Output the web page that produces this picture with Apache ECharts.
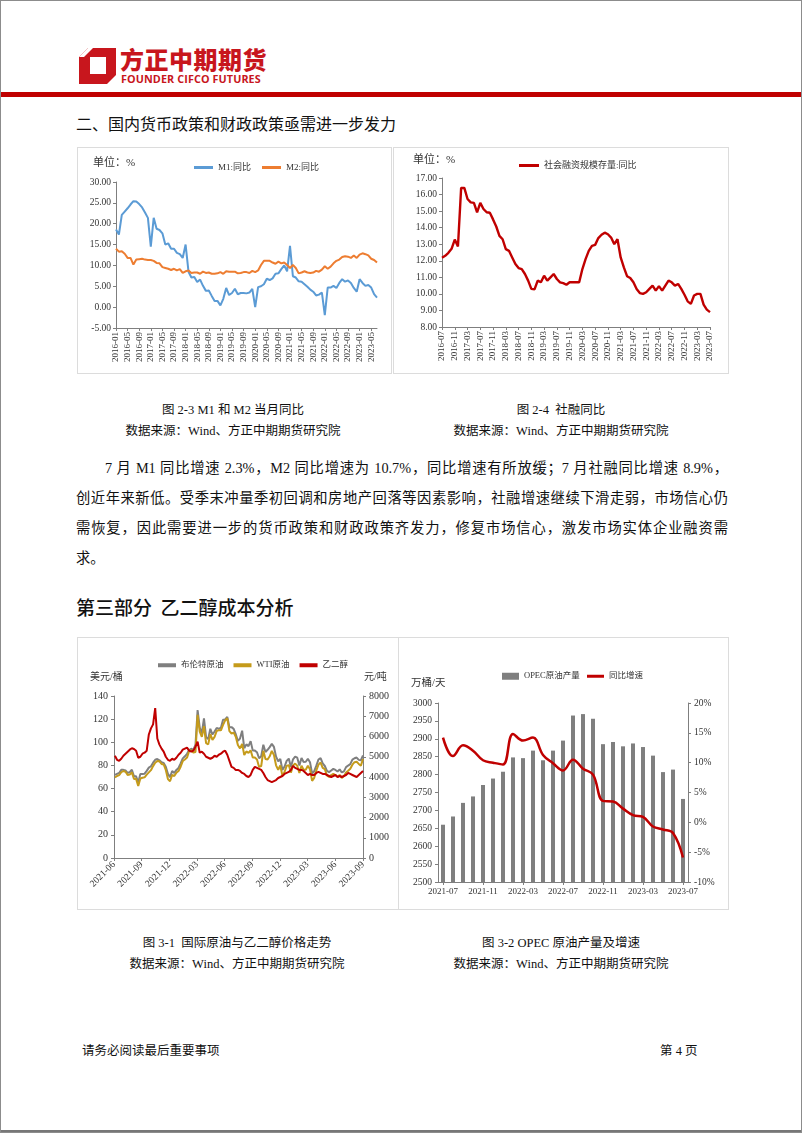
<!DOCTYPE html>
<html><head><meta charset="utf-8">
<script src="https://cdn.jsdelivr.net/npm/echarts@6/dist/echarts.min.js"></script>
<style>
html,body{margin:0;padding:0;background:#fff;}
#page{position:relative;width:800px;height:1131px;border:1px solid #8c8c8c;overflow:hidden;font-family:"Liberation Serif","Noto Sans CJK SC",serif;color:#111;background:#fff;}
.abs{position:absolute;white-space:nowrap;}
.panel{position:absolute;border:1px solid #dcdcdc;box-sizing:border-box;}
.chart{position:absolute;}
.cap{position:absolute;width:330px;text-align:center;font-size:12.5px;line-height:16px;white-space:nowrap;}
.para{position:absolute;font-size:14.3px;line-height:22px;text-align:justify;text-align-last:justify;white-space:nowrap;}
</style></head>
<body>
<div id="page">
  <svg class="abs" style="left:78px;top:47px" width="38" height="36" viewBox="0 0 38 36">
    <path d="M9,0 H37 V27 L28,36 H0 V9 Z" fill="#c8161d"/>
    <path d="M11,9 H27 V26 H11 Z" fill="#fff"/>
    <path d="M0,9 L9,0 H14 L5,9 Z" fill="#fff"/>
  </svg>
  <div class="abs" style="left:119px;top:44px;font-family:'Noto Sans CJK SC';font-weight:900;font-size:24px;letter-spacing:0.5px;color:#c8161d;line-height:28px;">方正中期期货</div>
  <div class="abs" style="left:120px;top:72px;font-family:'Open Sans','Noto Sans';font-weight:700;font-size:10.8px;color:#c8161d;line-height:12px;letter-spacing:0.1px;">FOUNDER CIFCO FUTURES</div>
  <div class="abs" style="left:0;top:91px;width:802px;height:5px;background:#c00000;"></div>

  <div class="abs" style="left:75px;top:113px;font-size:16px;line-height:18px;font-family:'Noto Sans CJK SC';">二、国内货币政策和财政政策亟需进一步发力</div>

  <div class="panel" style="left:76px;top:146px;width:315px;height:227px;"></div>
  <div class="panel" style="left:392px;top:146px;width:336px;height:227px;"></div>
  <div id="c1" class="chart" style="left:76px;top:146px;width:314px;height:226px;"></div>
  <div id="c2" class="chart" style="left:392px;top:146px;width:335px;height:226px;"></div>

  <div class="cap" style="left:67px;top:401px;">图 2-3 M1 和 M2 当月同比</div>
  <div class="cap" style="left:67px;top:422px;">数据来源：Wind、方正中期期货研究院</div>
  <div class="cap" style="left:395px;top:401px;">图 2-4&nbsp; 社融同比</div>
  <div class="cap" style="left:395px;top:422px;">数据来源：Wind、方正中期期货研究院</div>

  <div class="para" style="left:104px;top:456px;width:623px;">7 月 M1 同比增速 2.3%，M2 同比增速为 10.7%，同比增速有所放缓；7 月社融同比增速 8.9%，</div>
  <div class="para" style="left:75px;top:486px;width:652px;">创近年来新低。受季末冲量季初回调和房地产回落等因素影响，社融增速继续下滑走弱，市场信心仍</div>
  <div class="para" style="left:75px;top:516px;width:652px;">需恢复，因此需要进一步的货币政策和财政政策齐发力，修复市场信心，激发市场实体企业融资需</div>
  <div class="para" style="left:75px;top:546px;text-align-last:left;">求。</div>

  <div class="abs" style="left:75px;top:595px;font-size:19px;line-height:22px;font-family:'Noto Sans CJK SC';font-weight:500;">第三部分&nbsp; 乙二醇成本分析</div>

  <div class="panel" style="left:76px;top:636px;width:322px;height:273px;"></div>
  <div class="panel" style="left:397px;top:636px;width:331px;height:273px;"></div>
  <div id="c3" class="chart" style="left:76px;top:636px;width:321px;height:272px;"></div>
  <div id="c4" class="chart" style="left:397px;top:636px;width:330px;height:272px;"></div>

  <div class="cap" style="left:71px;top:934px;">图 3-1&nbsp; 国际原油与乙二醇价格走势</div>
  <div class="cap" style="left:71px;top:955px;">数据来源：Wind、方正中期期货研究院</div>
  <div class="cap" style="left:395px;top:934px;">图 3-2 OPEC 原油产量及增速</div>
  <div class="cap" style="left:395px;top:955px;">数据来源：Wind、方正中期期货研究院</div>

  <div class="abs" style="left:81px;top:1042px;font-size:12.5px;line-height:16px;">请务必阅读最后重要事项</div>
  <div class="abs" style="left:659px;top:1042px;font-size:12.5px;line-height:16px;">第 4 页</div>
  <div class="abs" style="left:0;top:1129px;width:802px;height:2px;background:#777;"></div>
</div>
<script>
// ---------- Chart 2-3: M1 / M2 (monthly, 2016-01 .. 2023-07) ----------
const m1Start = [2016, 1];
const m1Values = [18.6,17.4,22.1,22.9,23.7,24.6,25.4,25.3,24.7,23.9,22.7,21.4,
  14.5,21.4,18.8,18.5,17.7,15.0,15.3,14.0,14.0,13.0,12.7,11.8,
  15.0,8.5,7.1,7.2,6.0,6.6,5.1,3.9,4.0,2.7,1.5,1.5,
  0.4,2.0,4.6,2.9,3.4,4.4,3.1,3.4,3.4,3.3,3.5,4.4,
  0.0,4.8,5.0,5.5,6.8,6.5,6.9,8.0,8.1,9.1,10.0,8.6,
  14.7,7.4,7.1,6.2,6.1,5.5,4.9,4.2,3.7,2.8,3.0,3.5,
  -1.9,4.7,4.7,5.1,4.6,5.8,6.7,6.1,6.4,5.8,4.6,3.7,
  6.7,5.8,5.1,5.3,4.7,3.1,2.3];
const m2Values = [14.0,13.3,13.4,12.8,11.8,11.8,10.2,11.4,11.5,11.6,11.4,11.3,
  11.3,11.1,10.6,10.5,9.6,9.4,9.2,8.9,9.2,8.8,9.1,8.2,
  8.6,8.8,8.2,8.3,8.3,8.0,8.5,8.2,8.3,8.0,8.0,8.1,
  8.4,8.0,8.6,8.5,8.5,8.5,8.1,8.2,8.4,8.4,8.2,8.7,
  8.4,8.8,10.1,11.1,11.1,11.1,10.7,10.4,10.9,10.5,10.7,10.1,
  9.4,10.1,9.4,8.1,8.3,8.6,8.3,8.2,8.3,8.7,8.5,9.0,
  9.8,9.2,9.7,10.5,11.1,11.4,12.0,12.2,12.1,11.8,12.4,11.8,
  12.6,12.9,12.7,12.4,11.6,11.3,10.7];

// ---------- Chart 2-4: 社融存量同比 (monthly, 2016-07 .. 2023-07) ----------
const tsfStart = [2016, 7];
const tsfValues = [12.18,12.3,12.48,12.72,13.28,12.86,
  16.4,16.4,15.73,15.53,15.5,14.93,15.5,15.13,14.93,14.9,14.5,14.07,
  13.5,13.3,12.7,12.6,12.2,11.8,11.56,11.5,11.2,10.8,10.3,10.27,
  10.8,10.7,11.1,10.8,11.0,11.2,10.9,10.7,10.65,10.55,10.7,10.7,
  10.7,10.7,11.5,12.1,12.6,12.9,12.96,13.37,13.57,13.7,13.6,13.4,
  13.0,13.3,12.2,11.6,11.07,10.96,10.7,10.3,10.05,10.0,10.1,10.3,
  10.5,10.2,10.47,10.2,10.5,10.8,10.7,10.5,10.6,10.3,9.95,9.55,
  9.4,9.9,10.0,10.0,9.35,9.05,8.9];

// ---------- Chart 3-1: weekly prices, first week 2021-06-04 ----------
const weekFirst = '2021-06-04';
const axisStart = '2021-06-01', axisEnd = '2023-09-01';
const quarterLabels = ['2021-06','2021-09','2021-12','2022-03','2022-06','2022-09','2022-12','2023-03','2023-06','2023-09'];
const brent = [71.9,72.7,73.5,76.2,
  76.2,75.6,73.6,74.1,76.3,
  70.7,70.6,65.2,72.7,
  72.6,72.9,75.3,78.1,
  79.3,82.4,84.9,85.5,84.4,
  82.7,82.2,78.9,72.7,
  69.9,75.2,73.5,76.1,77.8,
  81.8,86.1,87.9,90.0,
  93.3,94.4,93.5,97.9,
  127.9,112.7,108.0,120.7,
  104.4,102.8,111.7,106.7,109.3,
  112.4,111.6,112.6,119.4,
  119.7,122.0,113.1,113.1,
  111.6,107.0,101.2,103.2,110.0,
  94.9,98.2,96.7,101.0,
  93.0,92.8,91.4,86.2,88.0,
  97.9,91.6,93.5,95.8,
  98.6,96.0,87.6,83.6,
  85.6,76.1,79.0,83.9,85.9,
  78.6,85.3,87.6,86.7,
  79.9,86.4,83.0,83.2,
  85.8,82.8,73.0,75.0,79.8,
  85.1,86.3,81.7,79.5,
  75.3,74.2,75.6,77.0,
  76.1,74.8,76.6,73.9,74.9,
  78.5,79.9,81.1,85.0,
  86.2,86.8,84.8,84.5,
  88.6];
const wti = [69.6,70.9,71.6,74.1,
  75.2,74.6,71.8,72.1,74.0,
  68.3,68.4,62.3,68.7,
  69.3,69.7,72.0,74.0,
  75.9,79.4,82.3,83.8,83.6,
  81.3,80.8,76.1,68.2,
  66.3,71.7,70.9,73.8,75.2,
  78.9,83.8,85.1,86.8,
  92.3,93.1,91.1,91.6,
  123.7,109.3,104.7,113.9,
  99.3,98.3,107.0,102.1,104.7,
  109.8,110.5,110.3,115.1,
  118.9,120.7,109.6,107.6,
  108.4,104.8,97.6,94.7,98.6,
  89.0,92.1,90.8,93.1,
  86.9,86.8,85.1,78.7,79.5,
  92.6,85.6,85.1,87.9,
  92.6,89.0,80.1,76.3,
  80.0,71.0,74.3,79.6,80.3,
  73.8,79.9,81.6,79.7,
  73.4,79.7,76.3,76.3,
  79.7,76.7,66.7,69.3,75.7,
  80.7,82.5,77.9,76.8,
  71.3,70.0,71.7,72.7,
  71.7,70.2,71.8,69.2,70.6,
  73.9,75.4,77.1,80.6,
  82.8,83.2,81.3,79.8,
  85.6];
const meg = [5050,4850,4800,4900, 5050,5150,5250,5350, 5420,5380,5300,4950,
  5000,5150,5200,5300, 6100,6400,6600,7400, 5900,5600,5400,5250,
  5000,4850,4800,4900, 4850,4950,5100,5200, 5350,5400,5450,5300,
  5250,5300,5500,5750, 5200,5250,5150,5000, 4950,4900,4950,5050,
  5000,5100,5150,5250, 5300,5100,4800,4500, 4450,4350,4350,4300,
  4200,4150,4050,4000, 4100,4350,4500,4450, 4400,4350,4200,4000,
  3850,3800,3750,3800, 3850,3950,4000,4050, 4150,4200,4250,4350,
  4550,4450,4400,4350, 4350,4300,4200,4100, 4150,4100,4100,4200,
  4250,4200,4150,4150, 4100,4050,4000,4050, 4100,4000,4050,4000,
  4050,4100,4200,4150, 4100,4050,4000,4100, 4200,4300];

// ---------- Chart 3-2: OPEC output (monthly, 2021-07 .. 2023-07) ----------
const opecStart = [2021, 7];
const opecOutput = [2660,2683,2721,2739,2771,2789,2808,2848,2846,2867,2840,2867,2895,
  2965,2969,2956,2885,2891,2879,2887,2877,2853,2807,2814,2732];
const opecYoY = [14.2,11.1,12.9,12.0,10.4,10.0,9.7,14.8,13.7,14.2,11.3,9.9,8.7,
  10.5,9.0,8.0,3.6,3.5,2.3,1.2,0.9,-0.7,-1.2,-1.8,-5.9];

function monthSeq(start, n) {
  const out = [];
  for (let i = 0; i < n; i++) {
    const k = start[1] - 1 + i;
    out.push((start[0] + Math.floor(k / 12)) + '-' + String(k % 12 + 1).padStart(2, '0'));
  }
  return out;
}
const FF = '"Liberation Serif","Noto Sans CJK SC",serif';
const AX = '#7f7f7f', TX = '#333';
const plain = v => String(v);
function axisCommon() {
  return {
    axisLine: { show: true, onZero: false, lineStyle: { color: AX, width: 1 } },
    axisTick: { show: true, length: 3, lineStyle: { color: AX } },
    splitLine: { show: false }
  };
}

// Chart 1
const months1 = monthSeq(m1Start, m1Values.length);
echarts.init(document.getElementById('c1')).setOption({
  animation: false,
  textStyle: { fontFamily: FF },
  graphic: [{ type: 'text', left: 16, top: 11, style: { text: '单位：%', fontSize: 11, fill: TX, fontFamily: FF } }],
  legend: { left: 112, top: 11, icon: 'rect', itemWidth: 19, itemHeight: 3, itemGap: 11,
    textStyle: { fontSize: 9, color: TX, fontFamily: FF }, data: ['M1:同比', 'M2:同比'] },
  grid: { left: 39, top: 35, width: 261, height: 146 },
  xAxis: Object.assign(axisCommon(), { type: 'category', data: months1, boundaryGap: false,
    axisTick: { show: true, interval: 3, length: 3, lineStyle: { color: AX } },
    axisLabel: { interval: 3, rotate: 90, fontSize: 9, color: TX, margin: 4, fontFamily: FF } }),
  yAxis: Object.assign(axisCommon(), { type: 'value', min: -5, max: 30, interval: 5,
    axisLabel: { formatter: v => v.toFixed(2), fontSize: 9.5, color: TX, margin: 5, fontFamily: FF } }),
  series: [
    { name: 'M1:同比', type: 'line', data: m1Values, showSymbol: false, lineStyle: { width: 2, color: '#5b9bd5' }, itemStyle: { color: '#5b9bd5' } },
    { name: 'M2:同比', type: 'line', data: m2Values, showSymbol: false, lineStyle: { width: 2, color: '#ed7d31' }, itemStyle: { color: '#ed7d31' } }
  ]
});

// Chart 2
const months2 = monthSeq(tsfStart, tsfValues.length);
echarts.init(document.getElementById('c2')).setOption({
  animation: false,
  textStyle: { fontFamily: FF },
  graphic: [{ type: 'text', left: 20, top: 8, style: { text: '单位：%', fontSize: 11, fill: TX, fontFamily: FF } }],
  legend: { left: 121, top: 9, icon: 'rect', itemWidth: 20, itemHeight: 3,
    textStyle: { fontSize: 9, color: TX, fontFamily: FF }, data: ['社会融资规模存量:同比'] },
  grid: { left: 49, top: 31, width: 268, height: 149 },
  xAxis: Object.assign(axisCommon(), { type: 'category', data: months2, boundaryGap: false,
    axisTick: { show: true, interval: 3, length: 3, lineStyle: { color: AX } },
    axisLabel: { interval: 3, rotate: 90, fontSize: 9, color: TX, margin: 4, fontFamily: FF } }),
  yAxis: Object.assign(axisCommon(), { type: 'value', min: 8, max: 17, interval: 1,
    axisLabel: { formatter: v => v.toFixed(2), fontSize: 9.5, color: TX, margin: 5, fontFamily: FF } }),
  series: [
    { name: '社会融资规模存量:同比', type: 'line', data: tsfValues, showSymbol: false, lineStyle: { width: 2.4, color: '#c00000' }, itemStyle: { color: '#c00000' } }
  ]
});

// Chart 3
const t0 = Date.parse(axisStart), t1 = Date.parse(axisEnd), tw = Date.parse(weekFirst);
const quarters = quarterLabels.length - 1;
function weekX(i) { return (tw + i * 7 * 86400000 - t0) / (t1 - t0) * quarters; }
const pairs = arr => arr.map((v, i) => [weekX(i), v]);
echarts.init(document.getElementById('c3')).setOption({
  animation: false,
  textStyle: { fontFamily: FF },
  graphic: [
    { type: 'text', left: 13, top: 35, style: { text: '美元/桶', fontSize: 10, fill: TX, fontFamily: FF } },
    { type: 'text', left: 287, top: 35, style: { text: '元/吨', fontSize: 10, fill: TX, fontFamily: FF } }
  ],
  legend: { left: 76, top: 19, icon: 'rect', itemWidth: 18, itemHeight: 4, itemGap: 10,
    textStyle: { fontSize: 8.5, color: TX, fontFamily: FF }, data: ['布伦特原油', 'WTI原油', '乙二醇'] },
  grid: { left: 37, top: 59, width: 249, height: 162 },
  xAxis: Object.assign(axisCommon(), { type: 'value', min: 0, max: quarters, interval: 1,
    axisLabel: { rotate: 45, fontSize: 9.5, color: TX, margin: 5, fontFamily: FF, formatter: v => quarterLabels[Math.round(v)] } }),
  yAxis: [
    Object.assign(axisCommon(), { type: 'value', min: 0, max: 140, interval: 20,
      axisLabel: { formatter: plain, fontSize: 10, color: TX, margin: 6, fontFamily: FF } }),
    Object.assign(axisCommon(), { type: 'value', min: 0, max: 8000, interval: 1000, position: 'right',
      axisLabel: { formatter: plain, fontSize: 10, color: TX, margin: 6, fontFamily: FF } })
  ],
  series: [
    { name: '布伦特原油', type: 'line', data: pairs(brent), showSymbol: false, lineStyle: { width: 2, color: '#7f7f7f' }, itemStyle: { color: '#7f7f7f' } },
    { name: 'WTI原油', type: 'line', data: pairs(wti), showSymbol: false, lineStyle: { width: 2, color: '#c59b1b' }, itemStyle: { color: '#c59b1b' } },
    { name: '乙二醇', type: 'line', yAxisIndex: 1, data: pairs(meg), showSymbol: false, lineStyle: { width: 2, color: '#c00000' }, itemStyle: { color: '#c00000' } }
  ]
});

// Chart 4
const months4 = monthSeq(opecStart, opecOutput.length);
echarts.init(document.getElementById('c4')).setOption({
  animation: false,
  textStyle: { fontFamily: FF },
  graphic: [{ type: 'text', left: 13, top: 41, style: { text: '万桶/天', fontSize: 10.5, fill: TX, fontFamily: FF } }],
  legend: [
    { left: 99, top: 30, icon: 'rect', itemWidth: 17, itemHeight: 7, itemGap: 4, textStyle: { fontSize: 8.5, color: TX, fontFamily: FF }, data: ['OPEC原油产量'] },
    { left: 184, top: 30, icon: 'rect', itemWidth: 17, itemHeight: 3, textStyle: { fontSize: 8.5, color: TX, fontFamily: FF }, data: ['同比增速'] }
  ],
  grid: { left: 40, top: 66, width: 250, height: 179 },
  xAxis: Object.assign(axisCommon(), { type: 'category', data: months4,
    axisTick: { show: true, alignWithLabel: true, interval: 3, length: 3, lineStyle: { color: AX } },
    axisLabel: { interval: 3, fontSize: 9, color: TX, margin: 5, fontFamily: FF } }),
  yAxis: [
    Object.assign(axisCommon(), { type: 'value', min: 2500, max: 3000, interval: 50,
      axisLabel: { formatter: plain, fontSize: 9.5, color: TX, margin: 6, fontFamily: FF } }),
    Object.assign(axisCommon(), { type: 'value', min: -10, max: 20, interval: 5, position: 'right',
      axisLabel: { formatter: '{value}%', fontSize: 9.5, color: TX, margin: 6, fontFamily: FF } })
  ],
  series: [
    { name: 'OPEC原油产量', type: 'bar', data: opecOutput, barWidth: 4, itemStyle: { color: '#7f7f7f' } },
    { name: '同比增速', type: 'line', yAxisIndex: 1, data: opecYoY, smooth: 0.4, showSymbol: false, lineStyle: { width: 2.5, color: '#c00000' }, itemStyle: { color: '#c00000' } }
  ]
});
</script>
</body></html>
